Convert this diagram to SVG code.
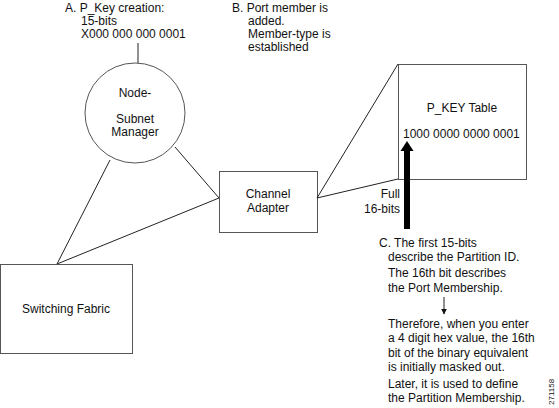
<svg xmlns="http://www.w3.org/2000/svg" width="559" height="408" viewBox="0 0 559 408">
<style>
text{font-family:"Liberation Sans",Arial,sans-serif;font-size:12px;fill:#111}
.c{text-anchor:middle}
.r{text-anchor:end}
.box{fill:#fff;stroke:#555;stroke-width:1}
.ln{stroke:#222;stroke-width:1;fill:none}
</style>
<defs>
<marker id="ah" viewBox="0 0 10 10" refX="9" refY="5" markerWidth="6" markerHeight="8" orient="auto" markerUnits="userSpaceOnUse">
<path d="M0,0 L10,5 L0,10 z" fill="#111"/>
</marker>
</defs>
<rect width="559" height="408" fill="#fff"/>
<g id="labelA">
<text x="65" y="12">A. P_Key creation:</text>
<text x="81" y="25">15-bits</text>
<text x="81" y="38">X000 000 000 0001</text>
</g>
<g id="labelB">
<text x="232" y="12">B. Port member is</text>
<text x="248" y="25">added.</text>
<text x="248" y="38">Member-type is</text>
<text x="248" y="51">established</text>
</g>
<g id="subnet-manager">
<circle cx="135" cy="113" r="50" class="box" stroke="#333"/>
<text class="c" x="135" y="97">Node-</text>
<text class="c" x="135" y="123">Subnet</text>
<text class="c" x="135" y="136">Manager</text>
</g>
<g id="switching-fabric">
<rect class="box" x="0.5" y="264.5" width="132" height="89"/>
<text class="c" x="66" y="313">Switching Fabric</text>
</g>
<g id="channel-adapter">
<rect class="box" x="219.5" y="171.5" width="98" height="61"/>
<text class="c" x="268" y="198">Channel</text>
<text class="c" x="268" y="212">Adapter</text>
</g>
<g id="pkey-table">
<rect class="box" x="398.5" y="64.5" width="128" height="115"/>
<text class="c" x="462" y="112">P_KEY Table</text>
<text x="403" y="138">1000 0000 0000 0001</text>
</g>
<g id="labelFull">
<text class="r" x="400" y="198">Full</text>
<text class="r" x="400" y="213">16-bits</text>
</g>
<g id="labelC">
<text x="379" y="247">C. The first 15-bits</text>
<text x="388" y="261">describe the Partition ID.</text>
<text x="388" y="277">The 16th bit describes</text>
<text x="388" y="292">the Port Membership.</text>
<text x="388" y="328">Therefore, when you enter</text>
<text x="388" y="342">a 4 digit hex value, the 16th</text>
<text x="388" y="357">bit of the binary equivalent</text>
<text x="388" y="371">is initially masked out.</text>
<text x="388" y="388">Later, it is used to define</text>
<text x="388" y="402">the Partition Membership.</text>
</g>
<text x="0" y="0" style="font-size:8px" transform="translate(554,405) rotate(-90)">271158</text>
<g id="connectors">
<line class="ln" x1="138" y1="43" x2="138" y2="63"/>
<line class="ln" x1="110" y1="160" x2="57" y2="264"/>
<line class="ln" x1="175" y1="147" x2="219" y2="198"/>
<line class="ln" x1="57" y1="264" x2="219" y2="198"/>
<line class="ln" x1="317" y1="198" x2="398" y2="64"/>
<line class="ln" x1="317" y1="198" x2="398" y2="179"/>
<rect x="404" y="150" width="6" height="79" fill="#000"/>
<path d="M400.5,151 L407,141 L413.5,151 z" fill="#000"/>
<line class="ln" x1="444" y1="297" x2="444" y2="314" marker-end="url(#ah)"/>
</g>
</svg>
